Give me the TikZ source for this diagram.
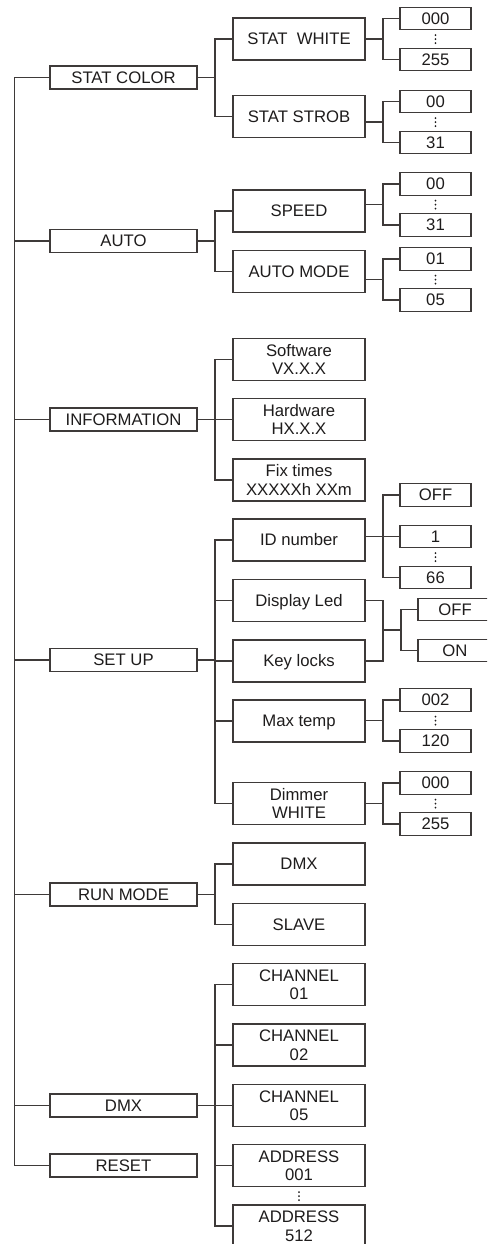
\documentclass[tikz,border=0pt]{standalone}
\usepackage{fontspec}
\setmainfont{Liberation Sans}
\definecolor{linec}{RGB}{62,58,57}
\definecolor{textc}{RGB}{30,28,28}
\tikzset{
  ln/.style={draw=linec, line width=1.1pt},
  box/.style={ln, rectangle, inner sep=0pt, text=textc, font=\fontsize{16.7}{18.5}\selectfont},
  one/.style={text height=11.8pt, text depth=0pt},
  lone/.style={box, one, minimum width=147pt, minimum height=23pt},
  ltwo/.style={box, minimum width=132pt, minimum height=42pt},
  lthree/.style={box, one, minimum width=71pt, minimum height=22.5pt},
  lwide/.style={box, one, minimum width=74pt, minimum height=22.5pt},
  vdots/.pic={\foreach \d in {0,4,8} \fill[textc] (0,-\d-0.9) circle (0.95);}
}
\begin{document}
\begin{tikzpicture}[x=1pt,y=-1pt]
\useasboundingbox (0,0) rectangle (487,1244);
\clip (0,0) rectangle (487,1244);

% guide coordinates
\coordinate (tr) at (14.7,0);
\coordinate (bx) at (215,0);

% level 1
\node[lone] (sc) at (123.5,77.5) {STAT COLOR};
\node[lone] (au) at (123.5,241) {AUTO};
\node[lone] (in) at (123.5,419.5) {INFORMATION};
\node[lone] (su) at (123.5,660) {SET UP};
\node[lone] (rm) at (123.5,894.5) {RUN MODE};
\node[lone] (dm) at (123.5,1105.5) {DMX};
\node[lone] (rs) at (123.5,1165.5) {RESET};

% level 2
\node[ltwo,one] (sw) at (299,39) {STAT\ \ WHITE};
\node[ltwo,one] (ss) at (299,116.5) {STAT STROB};
\node[ltwo,one] (sp) at (299,211) {SPEED};
\node[ltwo,one] (am) at (299,271.5) {AUTO MODE};
\node[ltwo,align=center] (sf) at (299,359.5) {Software\\VX.X.X};
\node[ltwo,align=center] (hw) at (299,419.5) {Hardware\\HX.X.X};
\node[ltwo,align=center] (ft) at (299,480) {Fix times\\XXXXXh XXm};
\node[ltwo,one] (idn) at (299,540) {ID number};
\node[ltwo,one] (dl) at (299,600.5) {Display Led};
\node[ltwo,one] (kl) at (299,661) {Key locks};
\node[ltwo,one] (mt) at (299,721) {Max temp};
\node[ltwo,align=center] (dw) at (299,803.5) {Dimmer\\WHITE};
\node[ltwo,one] (rdmx) at (299,864) {DMX};
\node[ltwo,one] (sl) at (299,924.5) {SLAVE};
\node[ltwo,align=center] (ch1) at (299,984.5) {CHANNEL\\01};
\node[ltwo,align=center] (ch2) at (299,1045) {CHANNEL\\02};
\node[ltwo,align=center] (ch5) at (299,1105.5) {CHANNEL\\05};
\node[ltwo,align=center] (ad1) at (299,1165.5) {ADDRESS\\001};
\node[ltwo,align=center] (ad5) at (299,1226) {ADDRESS\\512};

% level 3
\node[lthree] (swa) at (435.5,18.5) {000};
\node[lthree] (swb) at (435.5,59.5) {255};
\node[lthree] (ssa) at (435.5,101.5) {00};
\node[lthree] (ssb) at (435.5,142.5) {31};
\node[lthree] (spa) at (435.5,184) {00};
\node[lthree] (spb) at (435.5,225) {31};
\node[lthree] (ama) at (435.5,259) {01};
\node[lthree] (amb) at (435.5,300) {05};
\node[lthree] (ida) at (435.5,495) {OFF};
\node[lthree] (idb) at (435.5,536.5) {1};
\node[lthree] (idc) at (435.5,577.5) {66};
\node[lwide] (dla) at (455,609.5) {OFF};
\node[lwide] (dlb) at (455,650.5) {ON};
\node[lthree] (mta) at (435.5,700) {002};
\node[lthree] (mtb) at (435.5,741) {120};
\node[lthree] (dwa) at (435.5,783) {000};
\node[lthree] (dwb) at (435.5,824) {255};

% vertical ellipses (bottom dot position)
\pic at (435.5,44) {vdots};
\pic at (435.5,127) {vdots};
\pic at (435.5,209.5) {vdots};
\pic at (435.5,284.5) {vdots};
\pic at (435.5,562) {vdots};
\pic at (435.5,725.5) {vdots};
\pic at (435.5,808.5) {vdots};
\pic at (299,1201) {vdots};

% trunk
\draw[ln] (sc.west) -| (tr |- rs.west) -- (rs.west);
\foreach \n in {au,in,su,rm,dm} \draw[ln] (\n.west) -- (tr |- \n.west);

% level 1 -> level 2
\foreach \p/\a/\b in {sc/sw/ss, au/sp/am, in/sf/ft, su/idn/dw, rm/rdmx/sl, dm/ch1/ad5}{
  \draw[ln] (\p.east) -- (bx |- \p.east);
  \draw[ln] (\a.west) -| (bx |- \b.west) -- (\b.west);
}
\foreach \n in {hw,dl,kl,mt,ch2,ch5,ad1} \draw[ln] (\n.west) -- (bx |- \n.west);

% level 2 -> level 3
\coordinate (m1) at (383,39);
\coordinate (m2) at (383,122);
\coordinate (m3) at (383,204.5);
\coordinate (m4) at (383,279.5);
\coordinate (m5) at (383,536.5);
\coordinate (m6) at (383,720.5);
\coordinate (m7) at (383,803.5);
\foreach \p/\m/\a/\b in {sw/m1/swa/swb, ss/m2/ssa/ssb, sp/m3/spa/spb, am/m4/ama/amb, idn/m5/ida/idc, mt/m6/mta/mtb, dw/m7/dwa/dwb}{
  \draw[ln] (\p.east |- \m) -- (\m);
  \draw[ln] (\a.west) -| (\m |- \b.west) -- (\b.west);
}
\draw[ln] (idb.west) -- (m5);

% display led / key locks
\coordinate (j) at (383,630);
\coordinate (k) at (401,630);
\draw[ln] (dl.east) -| (j |- kl.east) -- (kl.east);
\draw[ln] (j) -- (k);
\draw[ln] (dla.west) -| (k |- dlb.west) -- (dlb.west);
\end{tikzpicture}
\end{document}
